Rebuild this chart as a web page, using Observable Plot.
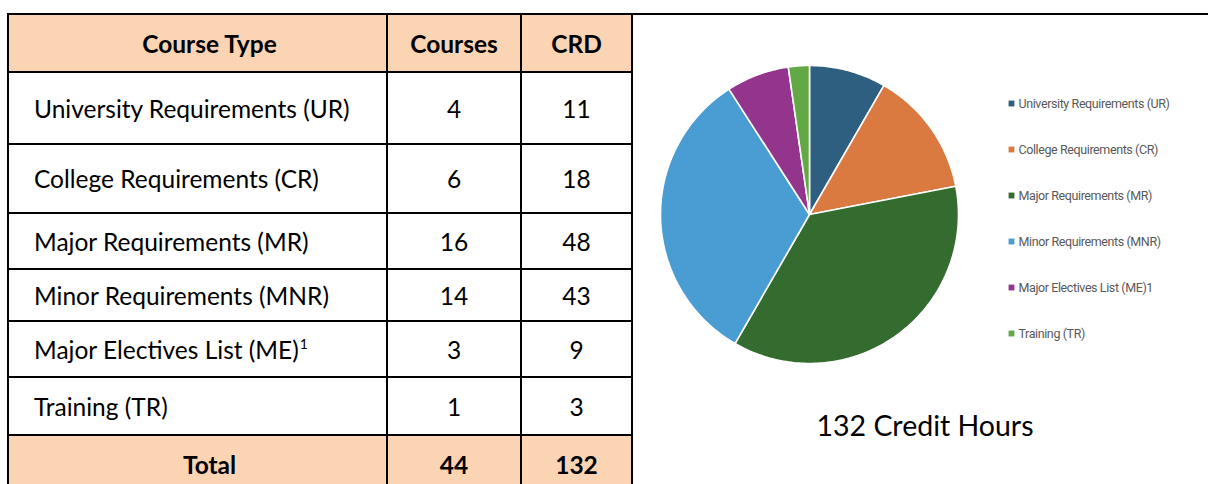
<!DOCTYPE html>
<html>
<head>
<meta charset="utf-8">
<script src="https://cdn.jsdelivr.net/npm/d3@7"></script>
<script src="https://cdn.jsdelivr.net/npm/@observablehq/plot@0.6"></script>
<style>
  body { margin: 0; background: #fff; }
  #wrap { position: relative; width: 1208px; height: 484px; overflow: hidden; background: #fff; }
  #rule { position: absolute; left: 632px; top: 13px; width: 576px; height: 2px; background: #000; }
  #table {
    position: absolute; left: 7px; top: 13px;
    display: grid;
    grid-template-columns: 379px 134px 111px;
    grid-template-rows: 58px 72px 69px 56px 52px 56px 58px 58px;
    border-left: 2px solid #000; border-top: 2px solid #000;
    font-family: Lato, "Open Sans", sans-serif; font-size: 24.5px; color: #000;
  }
  .cell {
    box-sizing: border-box; border-right: 2px solid #000; border-bottom: 2px solid #000;
    display: flex; align-items: center; justify-content: center;
  }
  .cell.left { justify-content: flex-start; padding-left: 25px; }
  .cell.shift { padding-left: 24px; }
  .cell.hdr { background: #FBD4B4; font-weight: bold; }
  sup { font-size: 14px; vertical-align: top; position: relative; top: -6px; margin-left: 1px; }
  #pie { position: absolute; left: 633px; top: 15px; }
  #legend { position: absolute; left: 1000px; top: 80px; }
  #legend svg { letter-spacing: -0.4px; }
  #caption {
    position: absolute; left: 805px; top: 408px; width: 240px; text-align: center;
    font-family: Lato, "Open Sans", sans-serif; font-size: 28.5px; color: #000;
  }
</style>
</head>
<body>
<div id="wrap">
  <div id="rule"></div>
  <div id="table"></div>
  <div id="pie"></div>
  <div id="legend"></div>
  <div id="caption"></div>
</div>
<script>
// ---- data ----
const headers = ["Course Type", "Courses", "CRD"];
const courseTypes = [
  "University Requirements (UR)",
  "College Requirements (CR)",
  "Major Requirements (MR)",
  "Minor Requirements (MNR)",
  "Major Electives List (ME)",
  "Training (TR)"
];
const footnotes = ["", "", "", "", "1", ""];
const courses = [4, 6, 16, 14, 3, 1];
const crd = [11, 18, 48, 43, 9, 3];
const totalLabel = "Total";
const totalCourses = 44;
const totalCrd = 132;
const legendLabels = [
  "University Requirements (UR)",
  "College Requirements (CR)",
  "Major Requirements (MR)",
  "Minor Requirements (MNR)",
  "Major Electives List (ME)1",
  "Training (TR)"
];
const sliceColors = ["#2F5F80", "#DB7A40", "#346B2E", "#4A9DD2", "#93358D", "#62A844"];
const caption = "132 Credit Hours";

// ---- table ----
const table = document.getElementById("table");
function addCell(html, cls) {
  const d = document.createElement("div");
  d.className = "cell " + cls;
  d.innerHTML = html;
  table.appendChild(d);
}
addCell(headers[0], "hdr shift");
addCell(headers[1], "hdr");
addCell(headers[2], "hdr");
courseTypes.forEach((t, i) => {
  addCell(t + (footnotes[i] ? "<sup>" + footnotes[i] + "</sup>" : ""), "left");
  addCell(String(courses[i]), "");
  addCell(String(crd[i]), "");
});
addCell(totalLabel, "hdr shift");
addCell(String(totalCourses), "hdr");
addCell(String(totalCrd), "hdr");

// ---- pie (wedges as filled closed lines on unit-circle x/y scales) ----
const sum = d3.sum(crd);
const wedgePts = [];
let acc = 0;
crd.forEach((v, i) => {
  const a0 = acc / sum * 2 * Math.PI;
  acc += v;
  const a1 = acc / sum * 2 * Math.PI;
  const n = Math.max(2, Math.ceil((a1 - a0) / (Math.PI / 180)));
  wedgePts.push({name: legendLabels[i], px: 0, py: 0});
  for (let k = 0; k <= n; k++) {
    const a = a0 + (a1 - a0) * k / n;
    wedgePts.push({name: legendLabels[i], px: Math.sin(a), py: Math.cos(a)});
  }
  wedgePts.push({name: legendLabels[i], px: 0, py: 0});
});

const cx = 176, cy = 199, R = 149;
const pie = Plot.plot({
  width: 360, height: 380,
  margin: 0,
  x: {domain: [-1, 1], range: [cx - R, cx + R], axis: null},
  y: {domain: [-1, 1], range: [cy + R, cy - R], axis: null},
  color: {domain: legendLabels, range: sliceColors},
  marks: [
    Plot.line(wedgePts, {x: "px", y: "py", z: "name", fill: "name", stroke: "white", strokeWidth: 1.6, curve: "linear", strokeLinejoin: "round"})
  ]
});
document.getElementById("pie").appendChild(pie);

// ---- legend ----
const legend = Plot.plot({
  width: 208, height: 280,
  margin: 0,
  y: {domain: legendLabels, type: "point", padding: 0, range: [23, 253], axis: null},
  color: {domain: legendLabels, range: sliceColors},
  style: {fontFamily: "Roboto, sans-serif", fontSize: "12.5px"},
  marks: [
    Plot.dot(legendLabels, {y: d => d, fill: d => d, symbol: "square", r: 3.3, frameAnchor: "left", dx: 11}),
    Plot.text(legendLabels, {y: d => d, text: d => d, frameAnchor: "left", textAnchor: "start", dx: 18, fill: "#595959"})
  ]
});
document.getElementById("legend").appendChild(legend);

document.getElementById("caption").textContent = caption;
</script>
</body>
</html>
